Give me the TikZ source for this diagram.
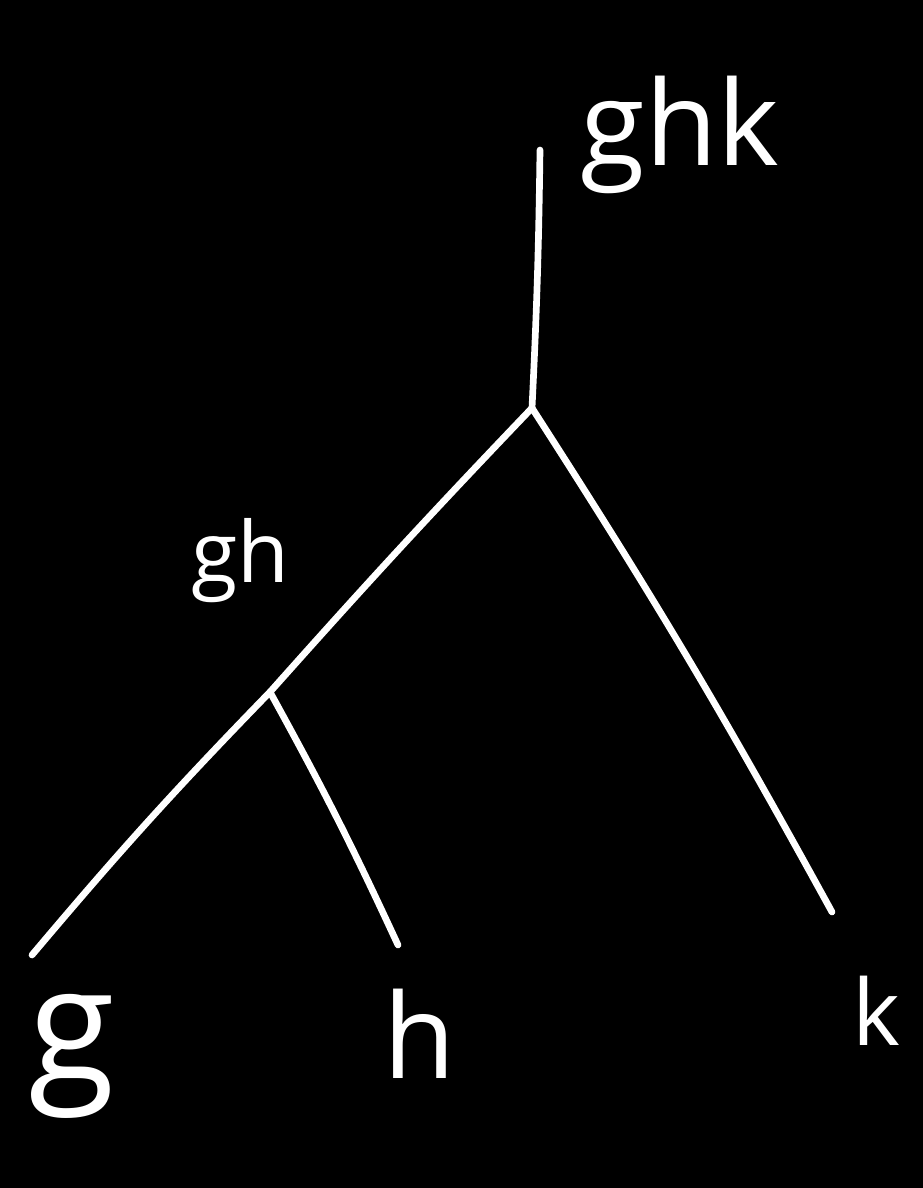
\documentclass[tikz,border=0pt]{standalone}
\usepackage{fontspec}
\setmainfont{Open Sans}
\usetikzlibrary{positioning}

\begin{document}
\begin{tikzpicture}[
    x=0.02cm, y=-0.02cm,
    branch/.style={draw=white, line width=3.8pt, line cap=round, line join=round},
    tag/.style={text=white, inner sep=0pt, anchor=base}
]

\fill[black] (0,0) rectangle (923,1188);

\coordinate (top) at (540,150);
\coordinate (root) at (532,408);
\coordinate (ghjoin) at (270,692);
\coordinate (gend) at (32,955);
\coordinate (hend) at (398,945);
\coordinate (kend) at (832,912);

\draw[branch] (top) to[bend left=1] (root);
\draw[branch] (root) to[bend right=1] (ghjoin);
\draw[branch] (root) to[bend left=2] (kend);
\draw[branch] (ghjoin) to[bend right=2] (gend);
\draw[branch] (ghjoin) to[bend left=2] (hend);

\node[tag, font=\fontsize{67}{67}\selectfont] (ghk) at (680,165) {ghk};
\node[tag, font=\fontsize{48}{48}\selectfont] (gh) at (240,582) {gh};
\node[tag, font=\fontsize{90}{90}\selectfont] (g) at (72,1080) {g};
\node[tag, font=\fontsize{67}{67}\selectfont] (h) at (420,1078) {h};
\node[tag, font=\fontsize{52}{52}\selectfont] (k) at (876,1045) {k};

\end{tikzpicture}
\end{document}
